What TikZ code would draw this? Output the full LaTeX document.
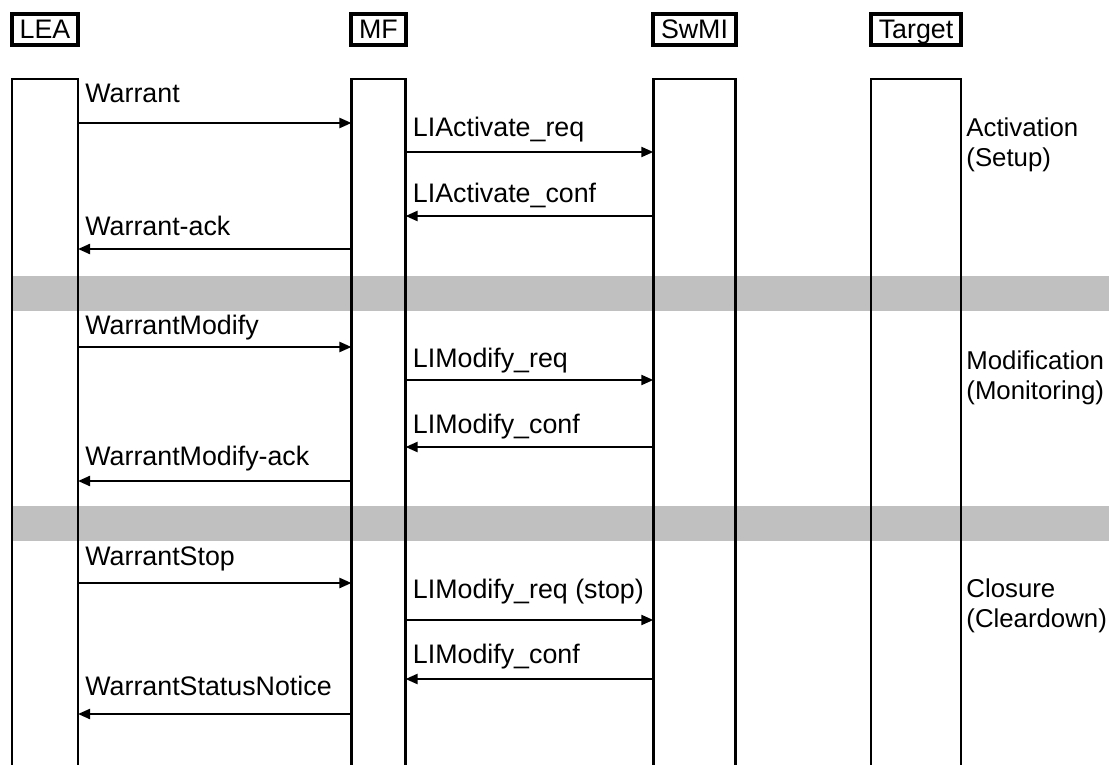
\documentclass[tikz,border=0pt]{standalone}
\usepackage{fontspec}
\setmainfont{Liberation Sans}
\usetikzlibrary{arrows.meta}

\definecolor{bandgray}{RGB}{192,192,192}

\tikzset{
    entity/.style={draw, line width=2pt, outer sep=0pt, inner xsep=3.85pt,
        inner ysep=0pt, minimum height=15.5pt, text height=9.6pt, text depth=1pt,
        font=\fontsize{13.4}{15}\selectfont},
    lifeline/.style={draw, line width=1.35pt},
    band/.style={fill=bandgray},
    fwd/.style={line width=1.1pt, -{Triangle[length=6pt,width=5pt]}},
    bwd/.style={line width=1.1pt, {Triangle[length=6pt,width=5pt]}-},
    msglabel/.style={anchor=base west, inner sep=0pt, xshift=3.5pt,
        font=\fontsize{13.4}{15}\selectfont},
    phase/.style={anchor=base west, inner sep=0pt, align=left,
        font=\fontsize{12.9}{15}\selectfont}
}

\begin{document}
\begin{tikzpicture}[x=0.5pt,y=-0.5pt]

\useasboundingbox (0,0) rectangle (1109,765);

\node[entity] (lea) at (45,29.5) {LEA};
\node[entity] (mf) at (378.5,29.5) {MF};
\node[entity] (swmi) at (694.5,29.5) {SwMI};
\node[entity] (target) at (916,29.5) {Target};

% phase separators
\fill[band] (lea.west |- 0,276) rectangle (1109,311);
\fill[band] (lea.west |- 0,506) rectangle (1109,541);

\foreach \n in {lea,mf,swmi,target}
    \draw[lifeline] (\n.west |- 0,765) |- (\n.east |- 0,79) -- (\n.east |- 0,765);

\foreach \y/\b/\l/\r/\dir/\txt [count=\i] in {
    123/103/lea/mf/fwd/Warrant,
    152/137/mf/swmi/fwd/LIActivate\_req,
    216/202/mf/swmi/bwd/LIActivate\_conf,
    249/235/lea/mf/bwd/Warrant-ack,
    347/334/lea/mf/fwd/WarrantModify,
    380/367/mf/swmi/fwd/LIModify\_req,
    447/433/mf/swmi/bwd/LIModify\_conf,
    481/465/lea/mf/bwd/WarrantModify-ack,
    583/565/lea/mf/fwd/WarrantStop,
    620/598/mf/swmi/fwd/LIModify\_req (stop),
    679/663/mf/swmi/bwd/LIModify\_conf,
    714/695/lea/mf/bwd/WarrantStatusNotice}
{
    \draw[\dir] (\l.east |- 0,\y) -- (\r.west |- 0,\y);
    \node[msglabel] (msg\i) at (\l.east |- 0,\b) {\txt};
}

% base of a two-line node is its last line
\node[phase] (activation) at (966,167) {Activation\\(Setup)};
\node[phase] (modification) at (966,399) {Modification\\(Monitoring)};
\node[phase] (closure) at (966,627) {Closure\\(Cleardown)};

\end{tikzpicture}
\end{document}
